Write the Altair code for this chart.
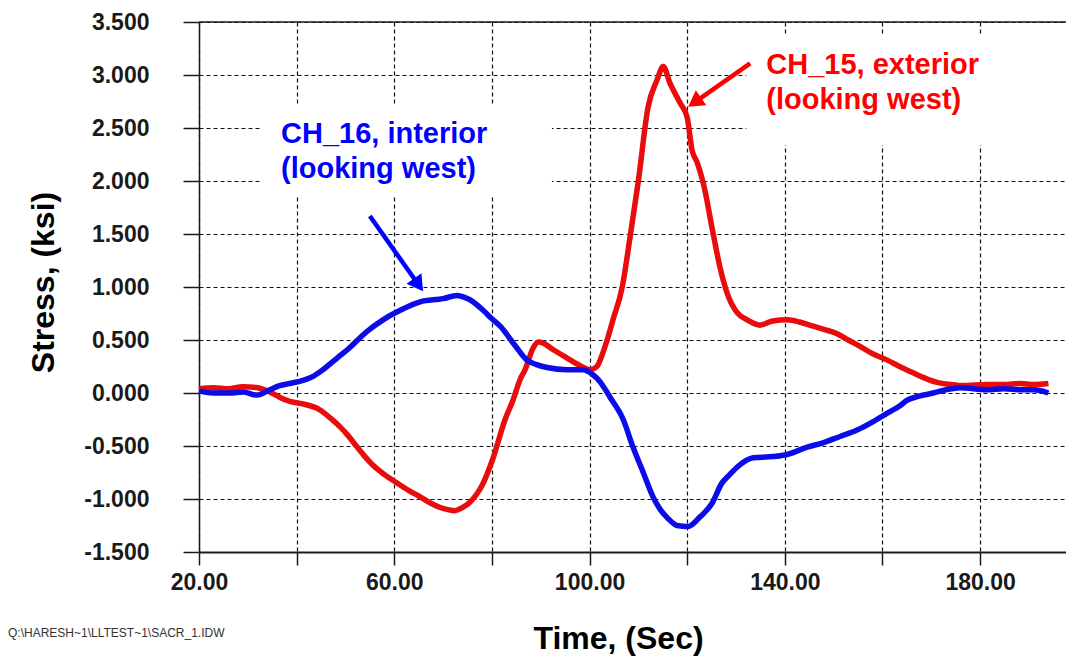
import math
import altair as alt
import pandas as pd

# ---- measured strain-gauge stress histories (ksi) ----
t_ch15 = [20, 23, 26, 29, 32, 34.5, 36.5, 38.6, 41, 44.8, 47, 48.9, 50.5, 52.4, 54, 55.6,
          58, 60.6, 63, 65.3, 67.5, 69.4, 71, 72.4, 74, 75.5, 76.8, 78, 80.2, 82.7, 84.3,
          85.8, 86.8, 88.4, 89.5, 90.5, 92.5, 95.4, 98, 100, 101.5, 102.5, 103.6, 104.8,
          106.7, 108.3, 110, 112, 113.8, 115.1, 116.5, 118.5, 120, 121, 122, 123.3, 125.3,
          126.7, 128.2, 130.2, 132.3, 134.9, 137.5, 140.5, 143, 145.8, 148, 150.7, 153,
          155.4, 158, 161, 163.5, 166.3, 168.7, 171.2, 174, 176.5, 181.4, 185, 188.2, 191, 194]
s_ch15 = [0.04, 0.05, 0.04, 0.06, 0.05, 0.01, -0.04, -0.08, -0.10, -0.16, -0.24, -0.32, -0.40,
          -0.51, -0.60, -0.68, -0.77, -0.85, -0.92, -0.98, -1.04, -1.08, -1.10, -1.11, -1.08,
          -1.03, -0.96, -0.87, -0.62, -0.25, -0.07, 0.13, 0.22, 0.42, 0.48, 0.47, 0.41, 0.33,
          0.26, 0.22, 0.25, 0.35, 0.50, 0.69, 1.00, 1.47, 2.00, 2.70, 2.95, 3.08, 2.92, 2.74,
          2.60, 2.29, 2.18, 1.98, 1.51, 1.19, 0.94, 0.76, 0.69, 0.64, 0.68, 0.69, 0.67, 0.63,
          0.60, 0.56, 0.50, 0.44, 0.37, 0.31, 0.25, 0.19, 0.14, 0.10, 0.08, 0.07, 0.08, 0.08,
          0.09, 0.08, 0.09]

t_ch16 = [20, 23, 26.4, 29, 31.9, 34.5, 36.5, 38.6, 41.3, 43.5, 45.4, 48.3, 50.9, 52.5, 54.4,
          57.7, 61.2, 65.3, 70, 72.9, 74.5, 75.5, 78.2, 80, 81.7, 84.7, 87.2, 89, 91.3, 95.4,
          98.7, 100.5, 101.5, 103, 104.2, 106.9, 108.9, 111, 113, 114.5, 116, 117.9, 120.2,
          122.6, 125.1, 127.1, 128.5, 130.2, 133.5, 137.6, 140.5, 144.6, 147.8, 151.3, 154.8,
          158.1, 161, 163.6, 165, 167.5, 170.4, 173, 175.9, 181.4, 185, 188.2, 191, 194]
s_ch16 = [0.02, 0.00, 0.00, 0.01, -0.02, 0.03, 0.07, 0.09, 0.12, 0.16, 0.22, 0.33, 0.43, 0.50,
          0.58, 0.69, 0.78, 0.86, 0.89, 0.92, 0.90, 0.88, 0.78, 0.70, 0.63, 0.45, 0.31, 0.27,
          0.24, 0.22, 0.22, 0.18, 0.14, 0.05, -0.04, -0.25, -0.51, -0.75, -0.98, -1.10, -1.18,
          -1.25, -1.26, -1.17, -1.04, -0.85, -0.78, -0.70, -0.61, -0.60, -0.58, -0.51, -0.47,
          -0.41, -0.35, -0.27, -0.19, -0.12, -0.07, -0.03, 0.00, 0.03, 0.05, 0.03, 0.04, 0.03,
          0.03, 0.00]

x_ticks = [20, 40, 60, 80, 100, 120, 140, 160, 180]
y_ticks = [-1.5, -1.0, -0.5, 0.0, 0.5, 1.0, 1.5, 2.0, 2.5, 3.0, 3.5]

label_ch16 = ["CH_16, interior", "(looking west)"]
label_ch15 = ["CH_15, exterior", "(looking west)"]
footer = "Q:\\HARESH~1\\LLTEST~1\\SACR_1.IDW"

# ---- layout / style ----
X_DOMAIN = [20, 197.6]
Y_DOMAIN = [-1.5, 3.5]
W, H = 867, 530
PX_X = W / (X_DOMAIN[1] - X_DOMAIN[0])
PX_Y = H / (Y_DOMAIN[1] - Y_DOMAIN[0])

FONT = "Liberation Sans, Arial, Helvetica, sans-serif"
RED_LINE, BLUE_LINE = "#e80c0c", "#0c0ce8"
RED_TEXT, BLUE_TEXT = "#ff0000", "#0000ff"
INK = "#1a1a1a"

xs = alt.Scale(domain=X_DOMAIN, nice=False, zero=False)
ys = alt.Scale(domain=Y_DOMAIN, nice=False, zero=False)

x_axis = alt.Axis(
    values=x_ticks, title="Time, (Sec)",
    labelExpr="datum.value % 40 == 20 ? format(datum.value, '.2f') : ''",
    labelFont=FONT, labelFontSize=23, labelFontWeight="bold", labelColor=INK,
    labelPadding=6, labelOverlap=False, labelFlush=False,
    tickSize=13, tickColor=INK, tickWidth=1.5,
    domainColor=INK, domainWidth=2,
    grid=True, gridColor="#111111", gridDash=[4, 3], gridWidth=1.2,
    titleFont=FONT, titleFontSize=32, titleFontWeight="bold", titleColor="#000000",
    titleX=419, titleY=96, titleBaseline="alphabetic", titleAlign="center", titleAnchor="middle",
)
y_axis = alt.Axis(
    values=y_ticks, title="Stress, (ksi)",
    labelExpr="(datum.value < 0 ? '-' : '') + format(abs(datum.value), '.3f')",
    labelFont=FONT, labelFontSize=23, labelFontWeight="bold", labelColor=INK,
    labelPadding=34, labelOverlap=False, labelFlush=False,
    tickSize=16, tickColor=INK, tickWidth=1.5,
    domainColor=INK, domainWidth=1.5,
    grid=True, gridColor="#111111", gridDash=[4, 3], gridWidth=1.2,
    titleFont=FONT, titleFontSize=32, titleFontWeight="bold", titleColor="#000000",
    titleAngle=270, titleX=-146, titleY=260, titleBaseline="alphabetic", titleAlign="center",
    titleAnchor="middle",
)


def X(field="t"):
    return alt.X(f"{field}:Q", scale=xs, axis=x_axis)


def Y(field="s"):
    return alt.Y(f"{field}:Q", scale=ys, axis=y_axis)


ch15 = pd.DataFrame({"t": t_ch15, "s": s_ch15})
ch16 = pd.DataFrame({"t": t_ch16, "s": s_ch16})

line15 = alt.Chart(ch15).mark_line(
    color=RED_LINE, strokeWidth=5.5, strokeJoin="round", interpolate="monotone"
).encode(x=X(), y=Y())
line16 = alt.Chart(ch16).mark_line(
    color=BLUE_LINE, strokeWidth=5.5, strokeJoin="round", interpolate="monotone"
).encode(x=X(), y=Y())

# solid frame line along the top of the plot
top_rule = alt.Chart(pd.DataFrame({"s": [3.5]})).mark_rule(color=INK, strokeWidth=1.5).encode(
    y=Y()
)

# white panels behind the callouts
boxes = pd.DataFrame({
    "t": [32.5, 132.1], "t2": [92.3, 197.6],
    "s": [2.72, 3.37], "s2": [1.85, 2.34],
})
panel = alt.Chart(boxes).mark_rect(color="white").encode(
    x=X(), x2="t2:Q", y=Y(), y2="s2:Q"
)

labels = pd.DataFrame({
    "text": label_ch16 + label_ch15,
    "t": [36.8, 36.8, 136.2, 136.2],
    "s": [2.358, 2.028, 3.009, 2.679],
    "who": ["CH_16", "CH_16", "CH_15", "CH_15"],
})
label_text = alt.Chart(labels).mark_text(
    align="left", baseline="alphabetic", font=FONT, fontSize=29, fontWeight="bold"
).encode(
    x=X(), y=Y(),
    text="text:N",
    color=alt.Color("who:N", scale=alt.Scale(domain=["CH_15", "CH_16"], range=[RED_TEXT, BLUE_TEXT]),
                    legend=None),
)

# arrows: tail -> tip in data space
arrow_tail_t = [55.0, 132.9]
arrow_tail_s = [1.67, 3.11]
arrow_tip_t = [65.9, 120.2]
arrow_tip_s = [0.96, 2.70]
arrow_who = ["CH_16", "CH_15"]

HEAD_SIZE = 330
head_half = math.sqrt(3) * (math.sqrt(HEAD_SIZE) / 2) / 2
shaft_rows, head_rows = [], []
for t0, s0, t1, s1, who in zip(arrow_tail_t, arrow_tail_s, arrow_tip_t, arrow_tip_s, arrow_who):
    dx = (t1 - t0) * PX_X
    dy = -(s1 - s0) * PX_Y
    n = math.hypot(dx, dy)
    ux, uy = dx / n, dy / n
    ang = math.degrees(math.atan2(ux, -uy)) % 360
    # head centred just behind the tip; shaft stops inside the head
    hc_t = t1 - ux * head_half / PX_X
    hc_s = s1 + uy * head_half / PX_Y
    shaft_rows.append({"t": t0, "s": s0, "t2": hc_t, "s2": hc_s, "who": who})
    head_rows.append({"t": hc_t, "s": hc_s, "ang": ang, "who": who})

acolor = alt.Color("who:N", scale=alt.Scale(domain=["CH_15", "CH_16"], range=[RED_LINE, BLUE_LINE]),
                   legend=None)
shaft = alt.Chart(pd.DataFrame(shaft_rows)).mark_rule(strokeWidth=4.5).encode(
    x=X(), x2="t2:Q", y=Y(), y2="s2:Q", color=acolor,
)
head = alt.Chart(pd.DataFrame(head_rows)).mark_point(
    shape="triangle-up", filled=True, opacity=1, size=HEAD_SIZE
).encode(
    x=X(), y=Y(),
    angle=alt.Angle("ang:Q", scale=None),
    color=acolor,
)

foot = alt.Chart(pd.DataFrame({"text": [footer]})).mark_text(
    align="left", baseline="alphabetic", font=FONT, fontSize=12, color="#333333"
).encode(text="text:N", x=alt.value(-191), y=alt.value(615))

chart = alt.layer(
    line15, top_rule, panel, line16, label_text, shaft, head, foot
).properties(
    width=W, height=H,
    padding={"left": 199, "top": 22, "right": 0, "bottom": 104},
    autosize=alt.AutoSizeParams(type="none"),
    background="white",
).configure_view(stroke=None)

chart.save("out.html", embed_options={"renderer": "svg", "actions": False})
